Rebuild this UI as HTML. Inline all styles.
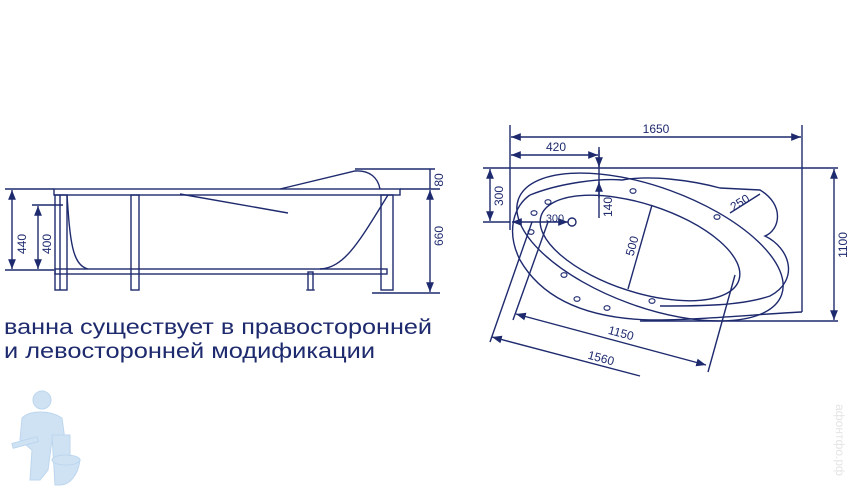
<!DOCTYPE html>
<html><head><meta charset="utf-8"><style>
html,body{margin:0;padding:0;background:#fff}
svg{display:block}
text{font-family:"Liberation Sans",sans-serif;fill:#1e2a6e}
</style></head><body>
<svg width="850" height="500" viewBox="0 0 850 500">
<defs>
<marker id="a" viewBox="0 0 10 10" refX="10" refY="5" markerWidth="7" markerHeight="7" orient="auto-start-reverse"><path d="M0,1 L10,5 L0,9 z" fill="#1e2a6e"/></marker>
</defs>
<g stroke="#1e2a6e" stroke-width="1.4" fill="none">
<!-- LEFT: side view -->
<rect x="54" y="189" width="346" height="6"/>
<rect x="55" y="195" width="12" height="95"/>
<line x1="60" y1="195" x2="60" y2="290"/>
<rect x="131" y="195" width="8" height="95"/>
<rect x="381" y="195" width="12" height="95"/>
<rect x="308" y="272" width="5" height="18"/>
<rect x="55" y="269" width="332" height="5"/>
<path d="M67,195 C70,240 72,265 88,269"/>
<path d="M388,195 C360,240 345,268 320,269"/>
<path d="M280,189 L355,171 C370,170 378,178 380,189"/>
<line x1="355" y1="169" x2="435" y2="169"/>
<line x1="180" y1="194" x2="288" y2="213"/>
<line x1="5" y1="189" x2="54" y2="189"/>
<line x1="5" y1="270" x2="54" y2="270"/>
<line x1="12" y1="190" x2="12" y2="269" marker-start="url(#a)" marker-end="url(#a)"/>
<line x1="32" y1="205" x2="63" y2="205"/>
<line x1="38" y1="206" x2="38" y2="269" marker-start="url(#a)" marker-end="url(#a)"/>
<line x1="372" y1="293" x2="440" y2="293"/>
<line x1="400" y1="189" x2="440" y2="189"/>
<line x1="430" y1="190" x2="430" y2="292" marker-start="url(#a)" marker-end="url(#a)"/>
<line x1="430" y1="169" x2="430" y2="189"/>
<g stroke-width="1"><path d="M55,290h12M131,290h8M381,290h12M306,290h9"/></g>

<!-- RIGHT: top view -->
<line x1="510" y1="125" x2="510" y2="230"/>
<line x1="802" y1="125" x2="802" y2="312"/>
<line x1="511" y1="137" x2="801" y2="137" marker-start="url(#a)" marker-end="url(#a)"/>
<line x1="511" y1="155" x2="598" y2="155" marker-start="url(#a)" marker-end="url(#a)"/>
<line x1="599" y1="147" x2="599" y2="218"/>
<line x1="599" y1="150" x2="599" y2="167" marker-end="url(#a)"/>
<line x1="599" y1="198" x2="599" y2="182" marker-end="url(#a)"/>
<line x1="483" y1="168" x2="838" y2="168"/>
<line x1="490" y1="169" x2="490" y2="221" marker-start="url(#a)" marker-end="url(#a)"/>
<line x1="483" y1="222" x2="510" y2="222"/>
<line x1="512" y1="222" x2="568" y2="222" marker-start="url(#a)" marker-end="url(#a)"/>
<circle cx="572" cy="222" r="4"/>
<line x1="834" y1="169" x2="834" y2="320" marker-start="url(#a)" marker-end="url(#a)"/>
<line x1="640" y1="321" x2="838" y2="321"/>
<!-- outer -->
<path d="M530,195 C515,205 505,230 520,260 C540,295 580,318 650,320 C700,320 760,314 802,312"/>
<path d="M530,195 C560,183 600,178 622,180 C650,175 690,180 720,188 L760,190 C785,205 780,230 765,236 C790,248 800,280 770,296 C740,306 700,306 660,306"/>
<ellipse cx="650" cy="247" rx="140" ry="60" transform="rotate(20 650 247)"/>
<ellipse cx="640" cy="248" rx="104" ry="44" transform="rotate(18 640 248)"/>
<line x1="652" y1="205" x2="628" y2="289"/>
<line x1="730" y1="213" x2="760" y2="194"/>
<!-- 1150 / 1560 -->
<line x1="516" y1="314" x2="706" y2="365" marker-start="url(#a)" marker-end="url(#a)"/>
<line x1="492" y1="337" x2="640" y2="376" marker-start="url(#a)"/>
<line x1="490" y1="342" x2="532" y2="222"/>
<line x1="513" y1="320" x2="548" y2="222"/>
<line x1="708" y1="372" x2="735" y2="275"/>
<g stroke-width="1.1">
<ellipse cx="548" cy="202" rx="3" ry="2.3"/><ellipse cx="534" cy="213" rx="3" ry="2.3"/>
<ellipse cx="531" cy="232" rx="3" ry="2.3"/><ellipse cx="633" cy="191" rx="3" ry="2.3"/>
<ellipse cx="717" cy="217" rx="3" ry="2.3"/><ellipse cx="564" cy="275" rx="3" ry="2.3"/>
<ellipse cx="577" cy="299" rx="3" ry="2.3"/><ellipse cx="607" cy="308" rx="3" ry="2.3"/>
<ellipse cx="652" cy="301" rx="3" ry="2.3"/>
</g>
</g>
<g font-size="12">
<text transform="translate(26,244) rotate(-90)" text-anchor="middle">440</text>
<text transform="translate(51,244) rotate(-90)" text-anchor="middle">400</text>
<text transform="translate(443,236) rotate(-90)" text-anchor="middle">660</text>
<text transform="translate(443,180) rotate(-90)" text-anchor="middle">80</text>
<text x="656" y="133" text-anchor="middle">1650</text>
<text x="556" y="151" text-anchor="middle">420</text>
<text transform="translate(503,196) rotate(-90)" text-anchor="middle">300</text>
<text x="555" y="222" text-anchor="middle" font-size="11">300</text>
<text transform="translate(612,207) rotate(-90)" text-anchor="middle">140</text>
<text transform="translate(636,247) rotate(-75)" text-anchor="middle">500</text>
<text transform="translate(742,206) rotate(-32)" text-anchor="middle">250</text>
<text transform="translate(847,245) rotate(-90)" text-anchor="middle">1100</text>
<text transform="translate(620,337) rotate(15)" text-anchor="middle">1150</text>
<text transform="translate(600,362) rotate(15)" text-anchor="middle">1560</text>
</g>
<text x="4" y="334" font-size="21" textLength="428" lengthAdjust="spacingAndGlyphs">ванна существует в правосторонней</text>
<text x="4" y="358" font-size="21" textLength="371" lengthAdjust="spacingAndGlyphs">и левосторонней модификации</text>
<!-- logo -->
<g fill="#cfe2f4" stroke="#bcd6ee" stroke-width="1">
<circle cx="42" cy="400" r="9"/>
<path d="M22,418 C30,410 50,410 62,418 L65,440 L52,440 L48,470 L40,480 L30,480 L32,450 L20,440 Z"/>
<path d="M52,435 L70,435 L70,460 L80,460 C78,475 70,485 60,485 L55,485 Z"/>
<ellipse cx="66" cy="460" rx="14" ry="5"/>
<rect x="12" y="440" width="26" height="5" transform="rotate(-15 25 442)"/>
</g>
<text transform="translate(836,440) rotate(90)" text-anchor="middle" font-size="12" style="fill:#e4e4e4">афонтфо.рф</text>
</svg>
</body></html>
